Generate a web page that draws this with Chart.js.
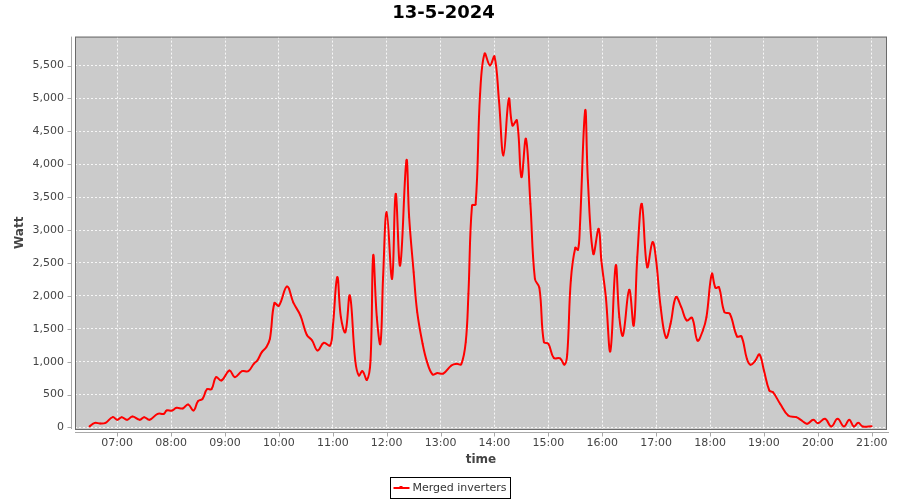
<!DOCTYPE html>
<html>
<head>
<meta charset="utf-8">
<script src="https://cdn.jsdelivr.net/npm/chart.js@4.4.1/dist/chart.umd.min.js"></script>
<style>
  html, body { margin: 0; padding: 0; background: #fff; }
</style>
</head>
<body>
<canvas id="powerChart" width="900" height="500"></canvas>
<script>
const times = [
  '06:29', '06:35', '06:41', '06:47', '06:55', '07:00', '07:05', '07:11', '07:17', '07:25',
  '07:30', '07:36', '07:45', '07:52', '07:55', '08:01', '08:06', '08:13', '08:19', '08:25',
  '08:30', '08:35', '08:40', '08:45', '08:50', '08:56', '09:05', '09:11', '09:19', '09:26',
  '09:32', '09:36', '09:41', '09:46', '09:50', '09:55', '10:00', '10:09', '10:16', '10:24',
  '10:31', '10:37', '10:43', '10:50', '10:57', '11:00', '11:05', '11:09', '11:14', '11:19',
  '11:25', '11:29', '11:33', '11:38', '11:42', '11:45', '11:49', '11:53', '11:56', '12:00',
  '12:06', '12:10', '12:15', '12:22', '12:25', '12:30', '12:34', '12:40', '12:45', '12:51',
  '12:56', '13:03', '13:12', '13:18', '13:23', '13:28', '13:31', '13:35', '13:39', '13:44',
  '13:49', '13:55', '14:00', '14:05', '14:10', '14:16', '14:20', '14:25', '14:30', '14:35',
  '14:40', '14:45', '14:50', '14:55', '15:00', '15:06', '15:13', '15:18', '15:21', '15:25',
  '15:30', '15:33', '15:35', '15:41', '15:44', '15:50', '15:56', '15:59', '16:04', '16:09',
  '16:15', '16:19', '16:23', '16:30', '16:35', '16:39', '16:44', '16:50', '16:56', '17:00',
  '17:05', '17:11', '17:16', '17:22', '17:28', '17:34', '17:40', '17:46', '17:52', '17:56',
  '18:02', '18:06', '18:10', '18:16', '18:22', '18:30', '18:35', '18:41', '18:45', '18:50',
  '18:55', '19:00', '19:06', '19:10', '19:18', '19:27', '19:36', '19:42', '19:48', '19:55',
  '20:00', '20:08', '20:15', '20:22', '20:29', '20:35', '20:40', '20:45', '20:50', '21:00'
];
const watts = [
  15, 70, 60, 70, 157, 117, 157, 117, 167, 117,
  157, 117, 208, 208, 258, 258, 299, 289, 350, 258,
  400, 436, 582, 582, 765, 714, 866, 765, 856, 856,
  968, 1018, 1145, 1220, 1348, 1890, 1850, 2143, 1900, 1700,
  1410, 1322, 1170, 1287, 1246, 1524, 2285, 1676, 1448, 2006,
  1018, 790, 856, 725, 1018, 2614, 1676, 1272, 2285, 3273,
  2260, 3552, 2462, 4058, 3197, 2361, 1753, 1272, 993, 806,
  826, 820, 942, 968, 960, 1297, 2032, 3374, 3390, 5072,
  5680, 5502, 5639, 4970, 4134, 4996, 4590, 4666, 3805, 4388,
  3400, 2260, 2123, 1297, 1272, 1059, 1050, 955, 1110, 2234,
  2731, 2700, 3020, 4818, 3754, 2640, 3020, 2538, 1981, 1160,
  2462, 1676, 1398, 2093, 1550, 2589, 3400, 2437, 2817, 2538,
  1829, 1363, 1576, 1981, 1829, 1626, 1667, 1322, 1474, 1676,
  2336, 2123, 2130, 1753, 1728, 1383, 1383, 1044, 953, 1008,
  1110, 866, 562, 537, 360, 182, 157, 106, 56, 117,
  65, 132, 15, 132, 15, 117, 15, 71, 15, 20
];
const hourTicks = ['07:00', '08:00', '09:00', '10:00', '11:00', '12:00', '13:00',
  '14:00', '15:00', '16:00', '17:00', '18:00', '19:00', '20:00', '21:00'];
const wattTicks = [0, 500, 1000, 1500, 2000, 2500, 3000, 3500, 4000, 4500, 5000, 5500];

const toMinutes = t => {
  const [h, m] = t.split(':').map(Number);
  return h * 60 + m;
};
const fmtTime = v => {
  const h = Math.floor(v / 60), m = Math.round(v % 60);
  return String(h).padStart(2, '0') + ':' + String(m).padStart(2, '0');
};

const points = times.map((t, i) => ({ x: toMinutes(t), y: watts[i] }));
const FONT = 'DejaVu Sans';

// grey plot background, frame, offset axis lines and a boxed legend
const plotFrame = {
  id: 'plotFrame',
  beforeDraw(chart) {
    const { ctx, chartArea: a } = chart;
    ctx.save();
    ctx.fillStyle = '#cbcbcb';
    ctx.fillRect(a.left, a.top, a.right - a.left, a.bottom - a.top);
    ctx.restore();
  },
  afterDraw(chart) {
    const { ctx, chartArea: a, scales } = chart;
    ctx.save();
    ctx.lineWidth = 1;
    ctx.strokeStyle = '#6a6a6a';
    ctx.strokeRect(a.left + 0.5, a.top + 0.5, a.right - a.left - 1, a.bottom - a.top);

    // y axis line and tick marks
    ctx.strokeStyle = '#a8a8a8';
    const ax = Math.round(a.left - 4) + 0.5;
    ctx.beginPath();
    ctx.moveTo(ax, a.top);
    ctx.lineTo(ax, a.bottom);
    wattTicks.forEach(v => {
      const y = Math.round(scales.y.getPixelForValue(v)) + 0.5;
      ctx.moveTo(ax - 4, y);
      ctx.lineTo(ax, y);
    });
    // x axis line and tick marks
    const ay = Math.round(a.bottom + 3) + 0.5;
    ctx.moveTo(a.left, ay);
    ctx.lineTo(a.right + 2, ay);
    hourTicks.forEach(t => {
      const x = Math.round(scales.x.getPixelForValue(toMinutes(t))) + 0.5;
      ctx.moveTo(x, ay);
      ctx.lineTo(x, ay + 4);
    });
    ctx.stroke();

    // legend
    const label = chart.data.datasets[0].label;
    ctx.font = '11px "' + FONT + '"';
    const tw = ctx.measureText(label).width;
    const bw = Math.round(tw + 26), bh = 21;
    const bx = Math.round(chart.width / 2 - bw / 2) + 0.5, by = 477.5;
    ctx.strokeStyle = '#000';
    ctx.strokeRect(bx, by, bw, bh);
    ctx.strokeStyle = '#ff0000';
    ctx.lineWidth = 2;
    ctx.beginPath();
    ctx.moveTo(bx + 3, by + 10.5);
    ctx.lineTo(bx + 19, by + 10.5);
    ctx.stroke();
    ctx.fillStyle = '#ff0000';
    ctx.fillRect(bx + 9, by + 8.5, 3, 3);
    ctx.fillStyle = '#333';
    ctx.textBaseline = 'middle';
    ctx.fillText(label, bx + 22, by + 11);
    ctx.restore();
  }
};

new Chart(document.getElementById('powerChart'), {
  type: 'line',
  data: {
    datasets: [{
      label: 'Merged inverters',
      data: points,
      borderColor: '#ff0000',
      backgroundColor: '#ff0000',
      borderWidth: 2,
      tension: 0.4,
      pointStyle: 'rect',
      pointRadius: 1,
      pointBorderWidth: 0,
      pointHoverRadius: 1,
      fill: false
    }]
  },
  options: {
    responsive: false,
    animation: false,
    devicePixelRatio: 1,
    layout: { padding: { left: 0, right: 13, top: 0, bottom: 29 } },
    plugins: {
      legend: { display: false },
      tooltip: { enabled: false },
      title: {
        display: true,
        text: '13-5-2024',
        color: '#000',
        font: { family: FONT, size: 18, weight: 'bold' },
        padding: { top: 3, bottom: 12 }
      }
    },
    scales: {
      x: {
        type: 'linear',
        min: 373,
        max: 1277,
        afterBuildTicks: s => { s.ticks = hourTicks.map(t => ({ value: toMinutes(t) })); },
        afterFit: s => { s.height = 42; },
        ticks: {
          color: '#444',
          font: { family: FONT, size: 11 },
          padding: 7.5,
          maxRotation: 0,
          autoSkip: false,
          callback: v => fmtTime(v)
        },
        grid: { color: 'rgba(255,255,255,0.85)', drawTicks: false, lineWidth: 1 },
        border: { display: false, dash: [2, 2] },
        title: {
          display: true,
          text: 'time',
          color: '#444',
          font: { family: FONT, size: 12, weight: 'bold' },
          padding: { top: 4, bottom: 4 }
        }
      },
      y: {
        min: -23,
        max: 5940,
        afterBuildTicks: s => { s.ticks = wattTicks.map(v => ({ value: v })); },
        afterFit: s => { s.width = 75; },
        ticks: {
          color: '#444',
          font: { family: FONT, size: 11 },
          padding: 11,
          callback: v => v.toLocaleString('en-US')
        },
        grid: { color: 'rgba(255,255,255,0.85)', drawTicks: false, lineWidth: 1 },
        border: { display: false, dash: [2, 2] },
        title: {
          display: true,
          text: 'Watt',
          color: '#444',
          font: { family: FONT, size: 12, weight: 'bold' },
          padding: { top: 13, bottom: 0 }
        }
      }
    }
  },
  plugins: [plotFrame]
});
</script>
</body>
</html>
